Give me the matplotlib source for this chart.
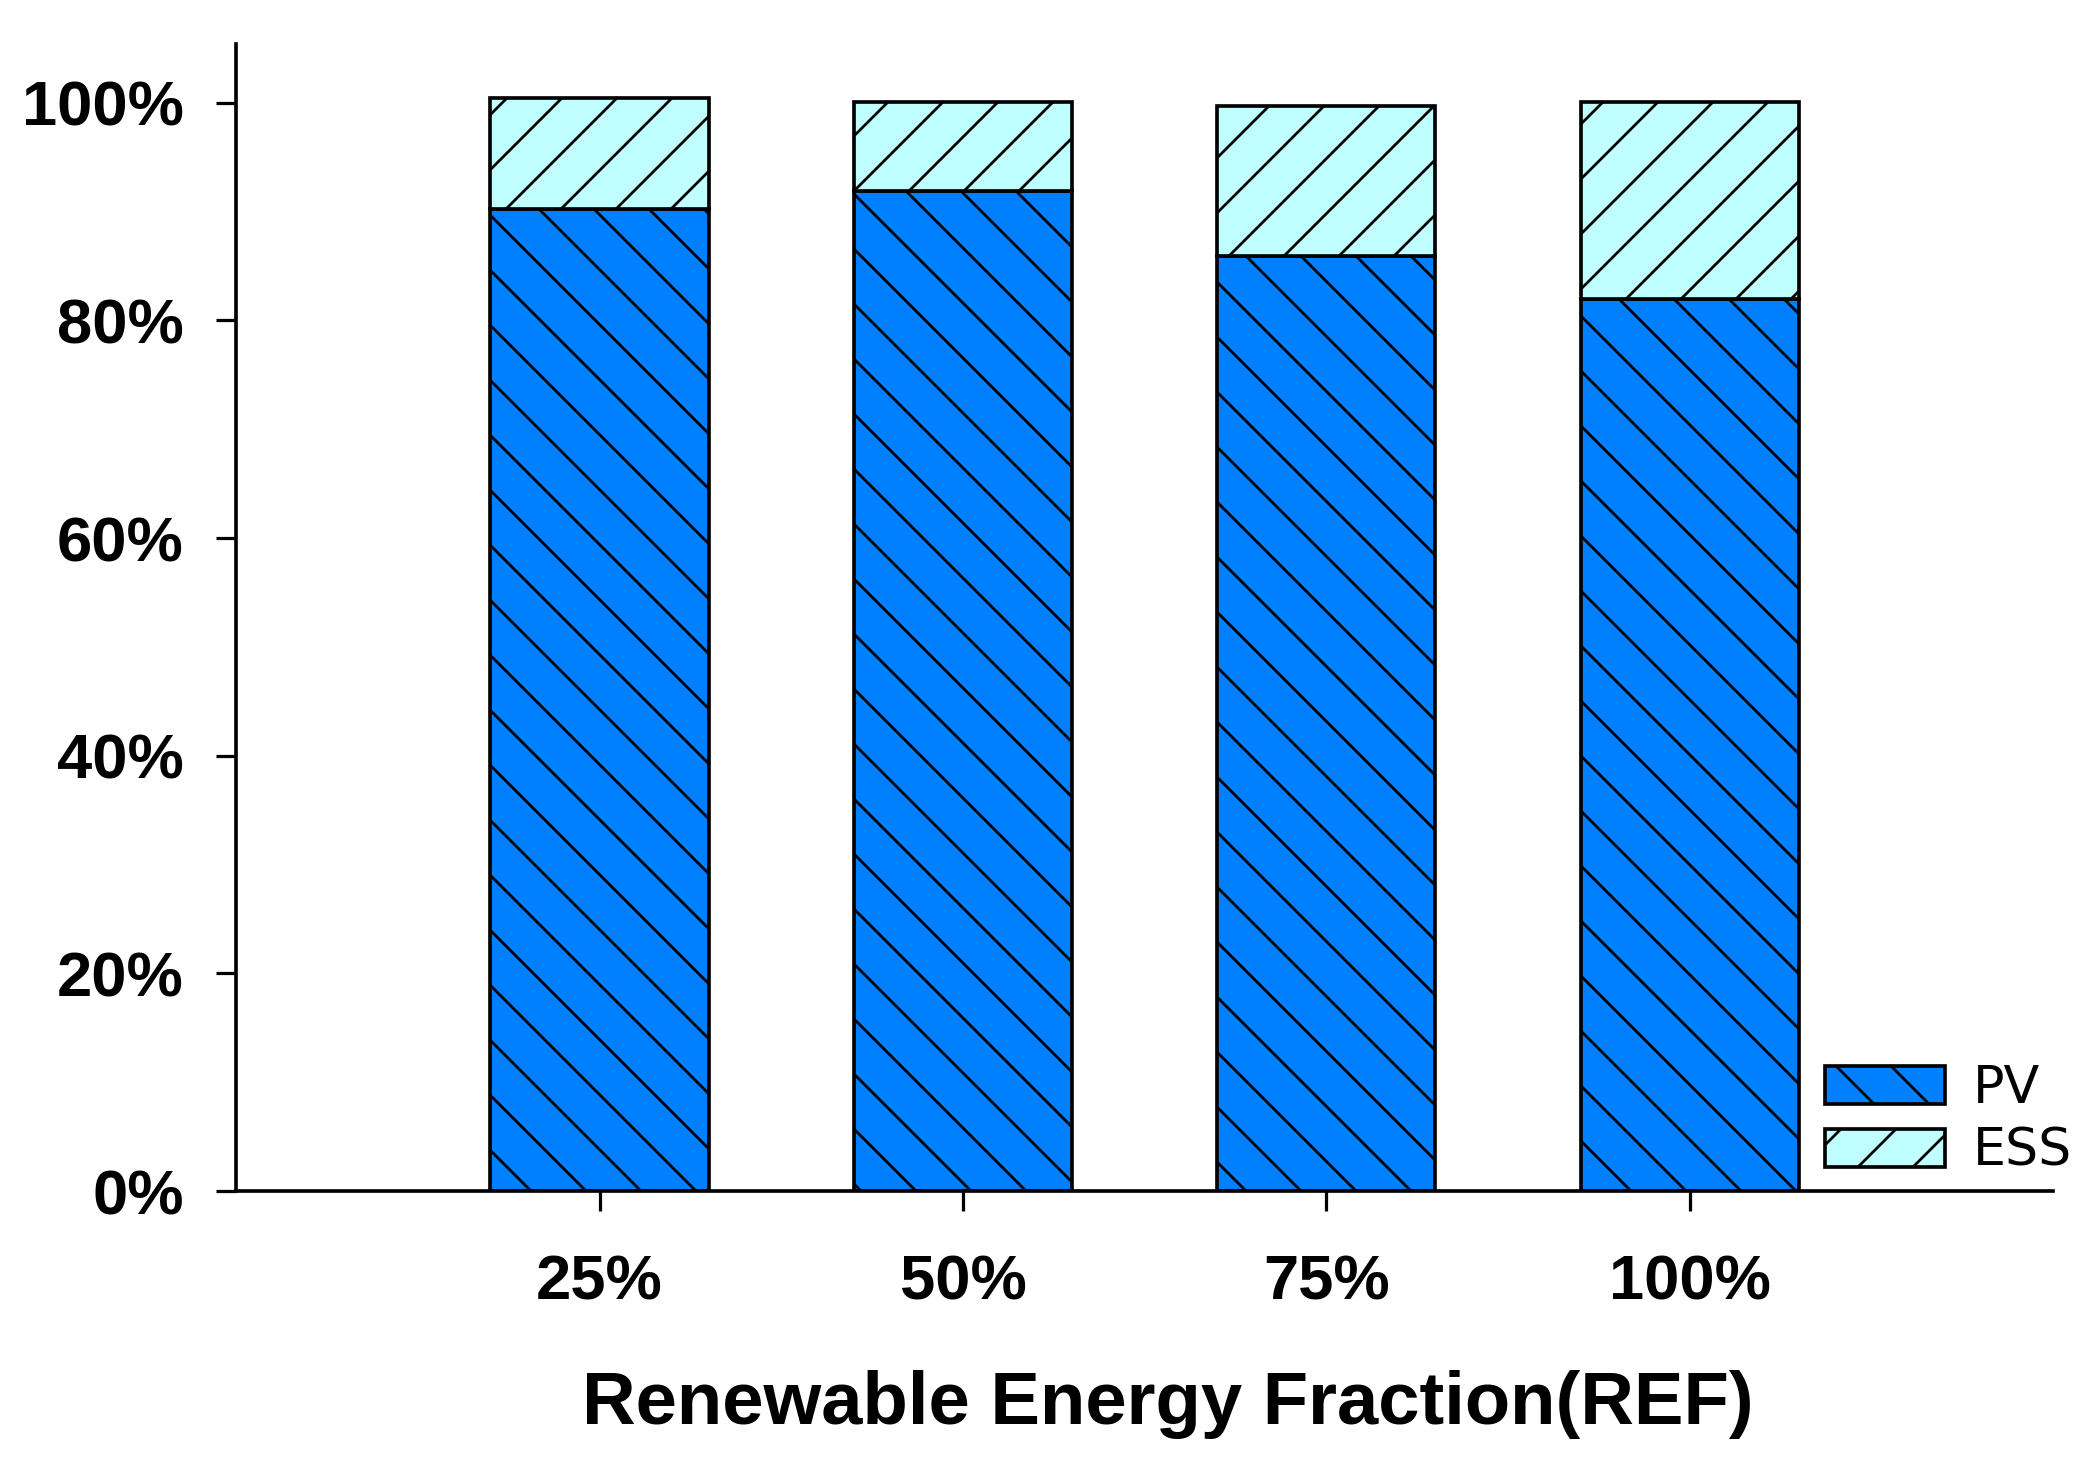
import matplotlib.pyplot as plt
import numpy as np

plt.rcParams['hatch.linewidth'] = 0.6

ref_labels = ['25%', '50%', '75%', '100%']
pv = [90.2, 91.9, 85.9, 82.0]
ess = [10.2, 8.2, 13.8, 18.1]
y_ticks = [0, 20, 40, 60, 80, 100]

DPI = 330
fig = plt.figure(figsize=(2093 / DPI, 1467 / DPI), dpi=DPI)
ax = fig.add_axes([0.1128, 0.1881, 0.981 - 0.1128, 0.970 - 0.1881])

x = np.arange(1, len(ref_labels) + 1)
ax.bar(x, pv, width=0.6, color='#007FFF', edgecolor='black', linewidth=0.8,
       hatch='\\\\', label='PV')
ax.bar(x, ess, width=0.6, bottom=pv, color='#C0FFFF', edgecolor='black',
       linewidth=0.8, hatch='//', label='ESS')

ax.set_xlim(0, 5)
ax.set_ylim(0, 105.4)
ax.set_xticks(x)
ax.set_xticklabels(ref_labels)
ax.set_yticks(y_ticks)
ax.set_yticklabels([f'{v}%' for v in y_ticks])

for s in ['top', 'right']:
    ax.spines[s].set_visible(False)
for s in ['left', 'bottom']:
    ax.spines[s].set_linewidth(0.8)

ax.tick_params(axis='both', direction='out', length=4.4, width=0.7)
ax.tick_params(axis='y', pad=7)
ax.tick_params(axis='x', pad=9.3)
for lab in ax.get_xticklabels() + ax.get_yticklabels():
    lab.set_fontfamily('Liberation Sans')
    lab.set_fontweight('bold')
    lab.set_fontsize(13.8)

ax.set_xlabel('Renewable Energy Fraction(REF)', fontfamily='Liberation Sans',
              fontweight='bold', fontsize=16.2)
ax.xaxis.set_label_coords(0.513, -0.156)
ax.xaxis.label.set_verticalalignment('top')

ax.legend(loc='lower left', bbox_to_anchor=(1825 / 2093, (1467 - 1177) / 1467),
          bbox_transform=fig.transFigure, frameon=False, borderpad=0,
          borderaxespad=0, handlelength=2.29, handleheight=0.75,
          labelspacing=0.25, handletextpad=0.54,
          prop={'family': 'DejaVu Sans', 'size': 11.4})

fig.savefig('out.png', dpi=DPI)
